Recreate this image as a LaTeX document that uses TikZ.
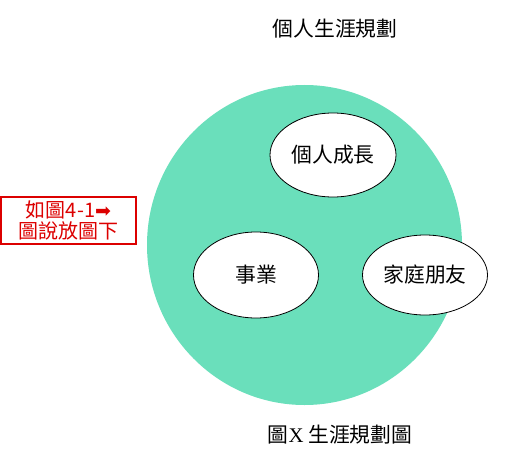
\documentclass[tikz,border=0pt]{standalone}
\usepackage{fontspec}
\setmainfont{Noto Sans CJK TC}
\newfontfamily\cjk{Noto Sans CJK TC}
\newfontfamily\arrowfont{DejaVu Sans}
\newfontfamily\serifx{Liberation Serif}
\usetikzlibrary{shapes.geometric}
\definecolor{teal}{RGB}{106,223,187}
\definecolor{redbox}{RGB}{220,0,0}
\tikzset{
  label text/.style={font=\cjk\fontsize{20.8}{22}\selectfont, text=black, inner sep=0pt},
  bubble/.style={ellipse, draw=black, line width=0.8pt, fill=white, inner sep=0pt,
    font=\cjk\fontsize{20.8}{22}\selectfont},
  notebox/.style={rectangle, draw=redbox, line width=2pt, inner sep=0pt,
    text=redbox, align=center, font=\cjk\fontsize{20}{21}\selectfont}
}
\begin{document}
\begin{tikzpicture}[x=1pt,y=-1pt]
\useasboundingbox (0,0) rectangle (518,465);
\node[label text] (title) at (335,29) {個人生涯規劃};
\node[ellipse, fill=teal, minimum width=315, minimum height=320, inner sep=0pt] (big) at (304.5,245) {};
\node[bubble, minimum width=126, minimum height=84] (growth) at (333,155) {個人成長};
\node[bubble, minimum width=125, minimum height=86] (career) at (256,275) {事業};
\node[bubble, minimum width=125, minimum height=80] (family) at (425,275) {家庭朋友};
\node[notebox, minimum width=135, minimum height=47] (note) at (68.5,220.5)
  {如圖4-1{\arrowfont\fontsize{19}{21}\selectfont ➡}\\圖說放圖下};
\node[label text] (caption) at (340,435) {圖{\serifx X} 生涯規劃圖};
\end{tikzpicture}
\end{document}
